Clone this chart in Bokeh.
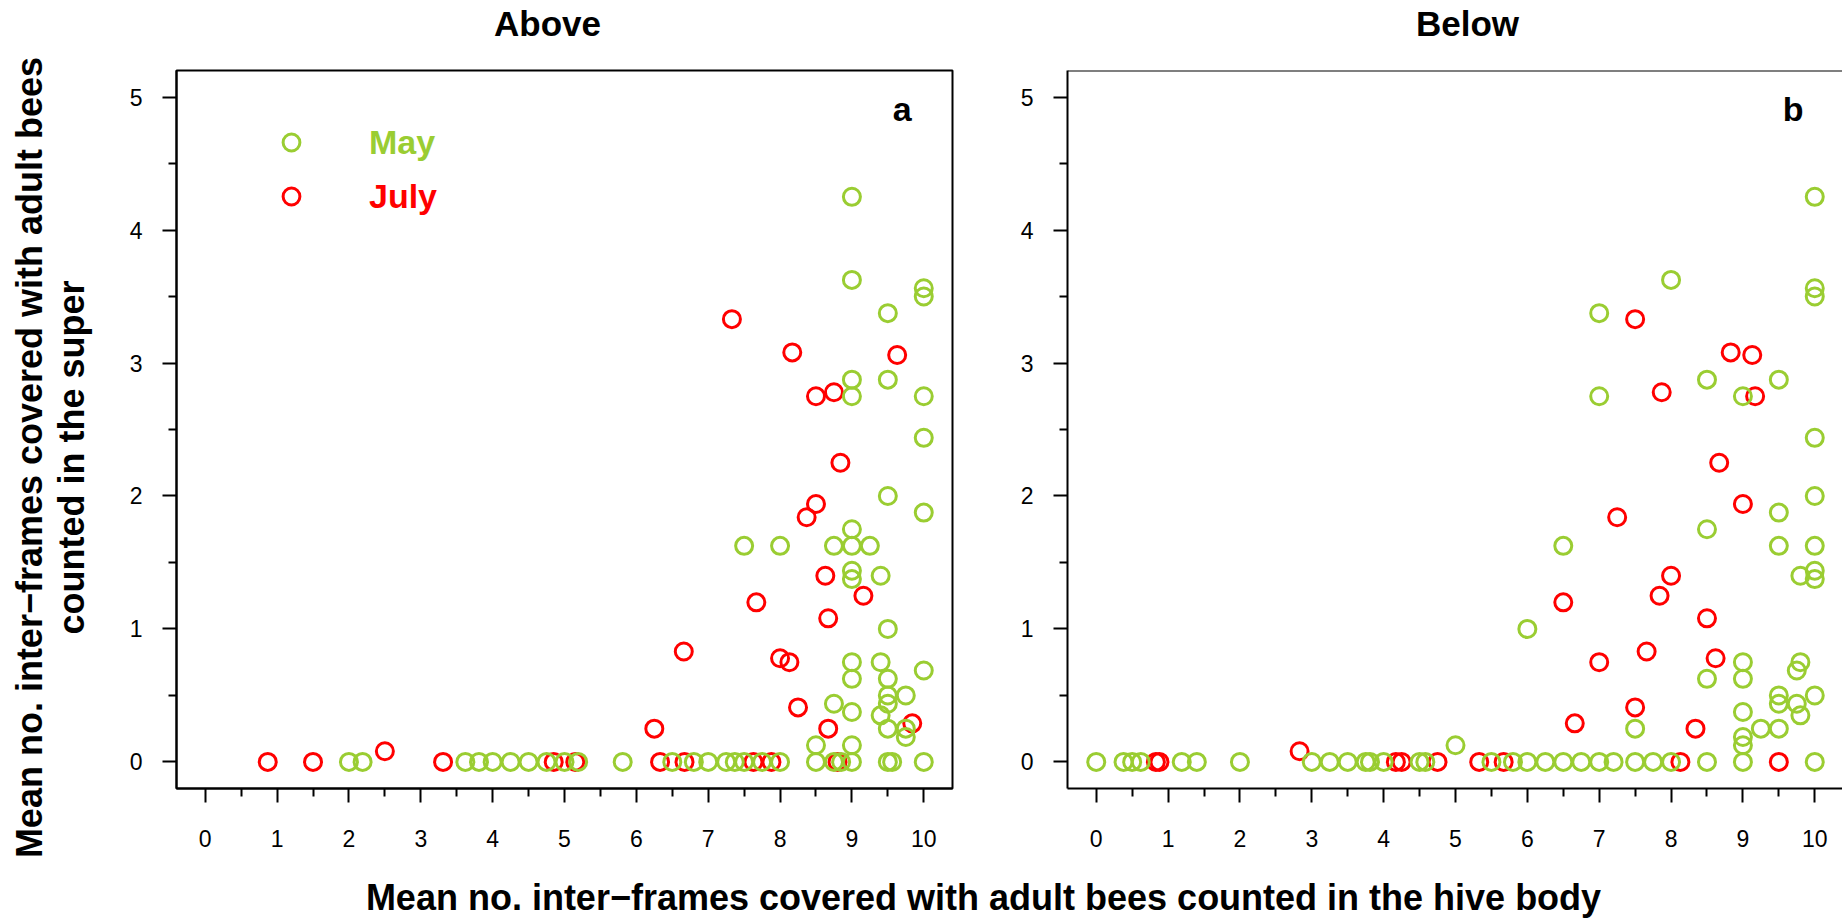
from bokeh.plotting import figure
from bokeh.models import Range1d, FixedTicker, Span, Label, Legend, LegendItem
from bokeh.layouts import column, row
from bokeh.embed import file_html
from bokeh.resources import INLINE
from bokeh.core.properties import value

# ---------------- data ----------------
panel_titles = ["Above", "Below"]
panel_letters = ["a", "b"]
series_names = ["May", "July"]

above_may_x = [9.0, 9.0, 10.0, 10.0, 9.5, 9.0, 9.5, 9.0, 10.0, 10.0, 9.5, 10.0, 9.0,
               7.5, 8.0, 8.75, 9.0, 9.25, 9.0, 9.0, 9.4, 9.5, 9.0, 9.4, 9.0, 9.5,
               10.0, 9.5, 9.5, 9.75, 8.75, 9.0, 9.4, 9.75, 9.75, 9.5, 8.5, 9.0,
               2.0, 2.19, 3.62, 3.81, 4.0, 4.25, 4.5, 4.75, 5.0, 5.19, 5.81, 6.5,
               6.8, 7.0, 7.25, 7.37, 7.5, 7.75, 8.0, 8.5, 8.75, 8.85, 9.0, 9.5, 9.56, 10.0]
above_may_y = [4.25, 3.625, 3.5625, 3.5, 3.375, 2.875, 2.875, 2.75, 2.75, 2.4375, 2.0, 1.875, 1.75,
               1.625, 1.625, 1.625, 1.625, 1.625, 1.4375, 1.375, 1.4, 1.0, 0.75, 0.75, 0.625, 0.625,
               0.6875, 0.5, 0.4375, 0.5, 0.4375, 0.375, 0.35, 0.25, 0.1875, 0.25, 0.125, 0.125,
               0, 0, 0, 0, 0, 0, 0, 0, 0, 0, 0, 0,
               0, 0, 0, 0, 0, 0, 0, 0, 0, 0, 0, 0, 0, 0]

above_july_x = [7.33, 8.17, 9.63, 8.5, 8.75, 8.84, 8.5, 8.37, 8.63, 9.16, 7.67, 8.67,
                6.66, 8.0, 8.13, 8.25, 9.84, 6.25, 8.67, 2.5,
                0.87, 1.5, 3.31, 4.85, 5.15, 6.33, 6.67, 7.63, 7.88, 8.8]
above_july_y = [3.33, 3.08, 3.06, 2.75, 2.78, 2.25, 1.94, 1.84, 1.4, 1.25, 1.2, 1.08,
                0.83, 0.78, 0.75, 0.41, 0.29, 0.25, 0.25, 0.08,
                0, 0, 0, 0, 0, 0, 0, 0, 0, 0]

below_may_x = [10.0, 8.0, 10.0, 10.0, 7.0, 8.5, 9.5, 7.0, 9.0, 10.0, 10.0, 9.5, 8.5,
               6.5, 9.5, 10.0, 10.0, 10.0, 9.8, 6.0, 9.0, 9.0, 8.5, 9.8, 9.75, 9.5,
               9.5, 10.0, 9.75, 9.8, 9.0, 7.5, 9.25, 9.5, 9.0, 9.0, 5.0,
               0.0, 0.38, 0.5, 0.62, 1.19, 1.4, 2.0, 3.0, 3.25, 3.5, 3.75, 3.81, 4.0,
               4.5, 4.58, 5.5, 5.8, 6.0, 6.25, 6.5, 6.75, 7.0, 7.2, 7.5, 7.75, 8.0,
               8.5, 9.0, 10.0]
below_may_y = [4.25, 3.625, 3.5625, 3.5, 3.375, 2.875, 2.875, 2.75, 2.75, 2.4375, 2.0, 1.875, 1.75,
               1.625, 1.625, 1.625, 1.4375, 1.375, 1.4, 1.0, 0.75, 0.625, 0.625, 0.75, 0.6875, 0.5,
               0.4375, 0.5, 0.4375, 0.35, 0.375, 0.25, 0.25, 0.25, 0.1875, 0.125, 0.125,
               0, 0, 0, 0, 0, 0, 0, 0, 0, 0, 0, 0, 0,
               0, 0, 0, 0, 0, 0, 0, 0, 0, 0, 0, 0, 0,
               0, 0, 0]

below_july_x = [7.5, 8.83, 9.13, 7.87, 9.17, 8.67, 9.0, 7.25, 8.0, 7.84, 6.5, 8.5,
                7.66, 8.62, 7.0, 7.5, 6.66, 8.34, 2.83,
                0.83, 0.88, 4.17, 4.25, 4.75, 5.33, 5.67, 8.13, 9.5]
below_july_y = [3.33, 3.08, 3.06, 2.78, 2.75, 2.25, 1.94, 1.84, 1.4, 1.25, 1.2, 1.08,
                0.83, 0.78, 0.75, 0.41, 0.29, 0.25, 0.08,
                0, 0, 0, 0, 0, 0, 0, 0, 0]

x_ticks = [0, 1, 2, 3, 4, 5, 6, 7, 8, 9, 10]
x_minor_ticks = [0.5, 1.5, 2.5, 3.5, 4.5, 5.5, 6.5, 7.5, 8.5, 9.5]
y_ticks = [0, 1, 2, 3, 4, 5]
y_minor_ticks = [0.5, 1.5, 2.5, 3.5, 4.5]

x_label = "Mean no. inter\u2212frames covered with adult bees counted in the hive body"
y_label_lines = ["Mean no. inter\u2212frames covered with adult bees", "counted in the super"]

# ---------------- style ----------------
GREEN = "#9ACD32"
RED = "#FF0000"
FONT = "Liberation Sans"
W = 1842
H = 920
YLAB_W = 100
TOP_H = 64
ROW_H = 796
BOT_H = H - TOP_H - ROW_H


def text_strip(x0, x1, y_top, y_bottom):
    s = figure(width=x1 - x0, height=y_bottom - y_top, x_range=Range1d(x0, x1),
               y_range=Range1d(y_bottom, y_top), output_backend="svg",
               toolbar_location=None, x_axis_location=None, y_axis_location=None,
               min_border=0, outline_line_color=None)
    s.xgrid.visible = False
    s.ygrid.visible = False
    return s


def panel(width, min_left, min_right, x_end, mx, my, jx, jy, letter, with_outline, legend):
    p = figure(width=width, height=ROW_H, x_range=Range1d(-0.4, x_end),
               y_range=Range1d(-0.2, 5.2), output_backend="svg", toolbar_location=None,
               min_border_left=min_left, min_border_right=min_right,
               min_border_top=6, min_border_bottom=ROW_H - 6 - 718,
               outline_line_color="black" if with_outline else None, outline_line_width=2)
    p.grid.visible = False
    p.xaxis.ticker = FixedTicker(ticks=x_ticks, minor_ticks=x_minor_ticks)
    p.yaxis.ticker = FixedTicker(ticks=y_ticks, minor_ticks=y_minor_ticks)
    for ax in p.axis:
        ax.major_tick_out = 14
        ax.major_tick_in = 0
        ax.minor_tick_out = 8
        ax.minor_tick_in = 0
        ax.major_tick_line_width = 2
        ax.minor_tick_line_width = 2
        ax.axis_line_width = 2
        ax.major_tick_line_color = "black"
        ax.minor_tick_line_color = "black"
        ax.axis_line_color = "black"
        ax.major_label_text_font = FONT
        ax.major_label_text_font_size = "23px"
        ax.major_label_text_color = "black"
    p.xaxis.major_label_standoff = 27
    p.yaxis.major_label_standoff = 20
    if not with_outline:
        p.add_layout(Span(location=5.2, dimension="width", line_color="black", line_width=2))

    r_july = p.scatter(jx, jy, marker="circle", size=17, line_width=3,
                       line_color=RED, fill_color=None)
    r_may = p.scatter(mx, my, marker="circle", size=17, line_width=3,
                      line_color=GREEN, fill_color=None)

    p.add_layout(Label(x=9.7, y=4.91, text=letter, text_font=FONT, text_font_size="34px",
                       text_font_style="bold", text_align="center",
                       text_baseline="middle", text_color="black"))

    if legend:
        for name, rend, col, vy in [(series_names[0], r_may, GREEN, 625),
                                    (series_names[1], r_july, RED, 571)]:
            lg = Legend(items=[LegendItem(label=name, renderers=[rend])],
                        location=(94, vy), border_line_color=None,
                        background_fill_alpha=0, padding=0, margin=0, spacing=0,
                        glyph_width=42, glyph_height=42, label_height=42,
                        label_standoff=57, label_text_font=FONT,
                        label_text_font_size="34px", label_text_font_style="bold",
                        label_text_color=col)
            p.add_layout(lg)
    return p


left = panel(862, 76, 10, 10.4, above_may_x, above_may_y, above_july_x, above_july_y,
             panel_letters[0], True, True)
right_end = -0.4 + 10.8 * 775 / 776
right = panel(880, 105, 0, right_end, below_may_x, below_may_y, below_july_x, below_july_y,
              panel_letters[1], False, False)

# titles strip
top = text_strip(YLAB_W, W, 0, TOP_H)
top.text(x=[547, 1467], y=[23, 23], text=panel_titles, text_align="center",
         text_baseline="middle", text_font=value(FONT), text_font_size="35px",
         text_font_style="bold", text_color="black")

# y label strip (full height)
ylab = text_strip(0, YLAB_W, 0, H)
ylab.text(x=[29, 71], y=[457, 457], text=y_label_lines, angle=1.5707963267948966,
          text_align="center", text_baseline="middle", text_font=value(FONT),
          text_font_size="36px", text_font_style="bold", text_color="black")

# x label strip
xlab = text_strip(YLAB_W, W, TOP_H + ROW_H, H)
xlab.text(x=[983], y=[897], text=[x_label], text_align="center",
          text_baseline="middle", text_font=value(FONT), text_font_size="36px",
          text_font_style="bold", text_color="black")

layout = row(ylab, column(top, row(left, right), xlab))

open("out.html", "w").write(file_html(layout, INLINE))
